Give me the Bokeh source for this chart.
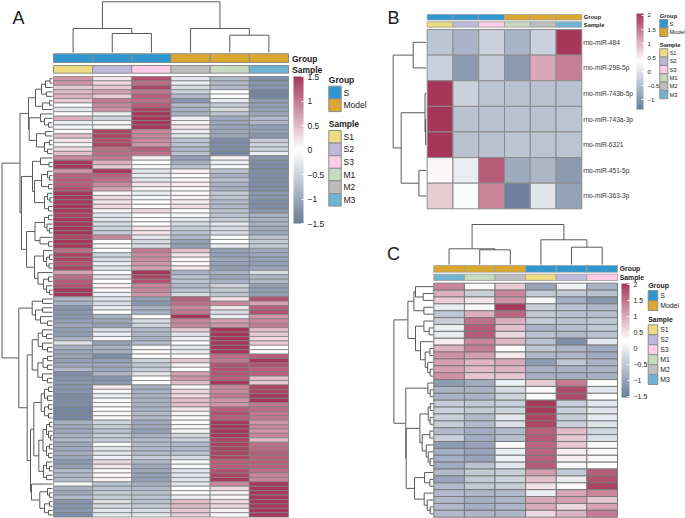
import numpy as np
from bokeh.plotting import figure
from bokeh.models import ColumnDataSource, ColorBar, LinearColorMapper, FixedTicker, Range1d
from bokeh.core.properties import value
from bokeh.embed import file_html
from bokeh.resources import INLINE

# ---------- data ----------
group_names = ["S", "Model"]
sample_names = ["S1", "S2", "S3", "M1", "M2", "M3"]

a_groups = ["S", "S", "S", "Model", "Model", "Model"]
a_samples = ["S1", "S2", "S3", "M2", "M1", "M3"]
a_values = [
    [.8,.2,1.3,-.3,-.8,-1.3],[.8,.3,1.1,-.2,-.8,-1.2],[.4,.4,1.4,-.4,-.8,-1.2],[.5,.7,1.0,-.5,0,-1.4],
    [.6,.4,1.2,-.8,0,-1.4],[.4,1.0,1.1,-1.2,-.2,-1.1],[-.05,.9,1.2,-.8,-.6,-1.1],[-.3,.8,1.4,-.9,-.4,-1.1],
    [0,-.2,1.5,-.9,-.7,-1.0],[.6,-.5,1.5,-.2,-1,-.8],[-.2,-.1,1.5,.1,-1,-.8],[-.1,-.1,1.5,.2,-1,-1.1],
    [.05,1.4,.9,-.2,-1,-1.1],[.5,1.4,.9,-.3,-1,-1.2],[.2,1.3,.9,-.7,-1.3,-.6],[.1,1.4,.8,-.7,-1.3,-.5],
    [.3,1.1,1.2,-.8,-1.3,-.5],[.5,1.1,1.1,-.7,-1.4,-.2],[.9,1.0,.1,-1.1,.1,-1.2],[1.5,.6,0,-.9,-.2,-1.3],
    [1.5,.4,-.05,-.7,-.1,-1.3],[.8,1.5,-.3,.1,-.7,-1.3],[1.2,1.2,-.2,0,-.9,-1.3],[1.2,1.1,-.3,.05,-.7,-1.3],
    [1.2,.9,.2,.15,-.9,-1.3],[1.3,.7,.1,.05,-.9,-1.3],[1.5,.1,-.2,.05,-.6,-1.2],[1.5,.3,-.1,.1,-.7,-1.2],
    [1.5,.2,0,.15,-.8,-1.3],[1.5,.3,.05,.25,-.8,-1.3],[1.5,.1,.3,0,-.7,-1.2],[1.4,-.3,0,-.1,-.7,-.9],
    [1.5,-.3,-.05,-.3,-.6,-.9],[1.5,-.4,0,-.4,-.3,-.9],[1.5,-.5,.2,-.6,-.4,-1],[1.5,-.6,.2,-.7,-.4,-1],
    [1.4,.9,-.3,-.8,-.1,-.7],[1.5,0,-.4,-1.1,0,-.6],[1.5,.05,-.4,-1.1,-.2,-.6],[1.1,-.05,1,.5,-1.1,-1],
    [1.4,-.5,.9,.2,-1.1,-1],[1.4,-.4,.9,.05,-1.0,-1.1],[1.3,-.2,.8,.05,-1.1,-1.1],[1.4,-.3,.7,.2,-1.1,-1.0],
    [.7,.05,1.5,-.9,-.9,-.4],[1.1,-.3,1.4,-.7,-1,-.8],[1.2,0,1.3,-.7,-.9,-.8],[1.3,.1,.9,-.8,-.5,-1.1],
    [1.5,.05,.9,-.7,-.6,-1.1],[1.5,-.2,.8,-.4,-.7,-1.1],
    [-.8,-.3,-1.1,1.2,.2,1.3],[-.9,-.4,-1.2,1.1,.9,.7],[-1.2,-.2,-.9,.9,.2,1.2],[-1.2,0,-.9,1.0,-.4,1.3],
    [-1.2,-.9,.05,1.5,-.2,.8],[-1.1,-1,-.4,.9,.7,.9],[-1,-1.1,-.5,.9,.8,1.0],[-1.1,-.4,-.8,.4,1.5,.5],
    [-1.1,-.2,-.8,-.3,1.5,.4],[-.9,-.1,-.9,-.2,1.5,.3],[-.3,-1.1,-.8,.05,1.5,.4],[-.9,-.9,.05,-.3,1.5,0],
    [-1,-.9,.05,-.2,1.5,0],[-1,-1.3,0,0,1.1,1.2],[-1.1,-1.1,-.5,.4,1.0,1.5],[-1,-1,-.6,.1,1.3,1.3],
    [-.8,-1,-.6,0,1.3,1.2],[-1.3,-.8,-.3,.7,1.3,1.2],[-1.2,-1.2,0,.8,1.2,.5],[-1.2,-1.2,0,.5,1.5,.4],
    [-1.2,.15,-.9,.05,.9,1.4],[-1.2,-.1,-.9,.3,.9,1.4],[-1.3,-.2,-.9,.3,1,1.5],[-1.3,-.05,-.9,.5,.8,1.5],
    [-1.3,.05,-.9,.5,.8,1.0],[-1.4,0,-.9,.2,1.2,1.1],[-1.4,.05,-.8,.1,1.3,1.0],[-1.4,.05,-.8,.05,1.2,1.0],
    [-.9,-.5,-1,.05,1.5,.8],[-1,-.6,-1,-.1,1.5,.9],[-1,-.7,-1.1,-.1,1.5,.8],[-.9,-.6,-.9,-.5,1.5,.9],
    [-.8,-.6,-.8,-.5,1.4,.5],[-1,-.1,-.8,-.8,1.4,1.1],[-1,-.3,-.8,-.8,1.4,1.1],[-.9,-.3,-.8,-.7,1.4,1.2],
    [-1,-.2,-.6,-.4,1.4,1.2],[-1.2,.3,-.8,-.1,1.2,1.2],[-1.1,.2,-1,-.05,1.2,1.2],[-.8,-.1,-1,-.3,1.3,1.1],
    [-.8,.05,-1.1,-.3,1.4,.9],[-.8,.1,-1.1,-.3,1.5,.9],[-.1,-.7,-.9,-.3,.9,1.5],[-.9,-.7,-.8,0,.3,1.5],
    [-1,-.6,-.7,-.05,.1,1.5],[-.8,-.6,-.7,-.2,.1,1.5],[-1.2,-.4,-.7,.5,.3,1.5],[-1.2,-.4,-.6,.5,.3,1.5],
    [-1.2,-.3,-.4,.4,.1,1.5],[-1.3,-.3,-.3,.4,.05,1.5],
]
a_col_tree = (50.7, (24, 0, (19, 0, 0)), (24, 0, (17.3, 0, 0)))
_r0_7 = (17, (11, (7, (2.5, 0, 0), 0), (6, 0, 0)), (10, (3, 0, 0), 0))
_r8_11 = (12, 0, (8, 0, (4, 0, 0)))
_r12_17 = (16, (7, 0, 0), (8, (3, 0, 0), (5, 0, 0)))
_u2a = (20, (12, 0, (3.5, 0, 0)), (18, (11, (5, 0, (3, 0, 0)), (4, 0, 0)), (8, (5, 0, (2.5, 0, 0)), (4, 0, 0))))
_u2b = (26, (17.5, (8, (4, 0, 0), (5.5, 0, (3, 0, 0))), (12.5, 0, (4, 0, 0))),
        (18, (9, 0, (6, (3, 0, 0), (3.5, 0, 0))), (14.5, 0, (9, (4, 0, 0), (6, 0, (3, 0, 0))))))
_upper = (32.5, (24, _r0_7, (23.3, _r8_11, _r12_17)), (31, _u2a, _u2b))
_la = (20.3, (10, 0, 0), (17, (10, 0, 0), (12, 0, (5, 0, 0))))
_lb1 = (20.3, (14.3, (10, 0, (6, 0, 0)), (10, 0, (5, 0, 0))),
        (14.6, (9.5, (5, 0, 0), (5, 0, 0)), (10, 0, (5, 0, 0))))
_r70_77 = (11.3, (8, (4, 0, 0), (5, 0, 0)), (8, (4, 0, 0), (4, 0, 0)))
_r78_86 = (9.5, (6, (3, 0, 0), (4, 0, (2, 0, 0))), (6, (3, 0, 0), (4, 0, 0)))
_r87_91 = (9, (6, 0, (3, 0, 0)), (6, 0, 0))
_lb2 = (22, (18.7, _r70_77, (13.7, _r78_86, _r87_91)),
        (21, 0, (12.7, (5, 0, (3, 0, 0)), (8, (3, 0, 0), (4, 0, 0)))))
a_row_tree = (50.5, _upper, (33.7, _la, (25.3, _lb1, _lb2)))

b_groups = ["S", "S", "S", "Model", "Model", "Model"]
b_samples = ["S1", "S2", "S3", "M1", "M2", "M3"]
b_rows = ["rno-miR-484", "rno-miR-298-5p", "rno-miR-743b-5p", "rno-miR-743a-3p",
          "rno-miR-6321", "rno-miR-451-5p", "rno-miR-363-3p"]
b_values = [
    [-.41,-.62,-.25,-.62,-.25,2.07],
    [-.25,-.95,-.3,-.95,1.1,1.45],
    [2.07,-.25,-.42,-.45,-.45,-.45],
    [2.07,-.45,-.45,-.45,-.45,-.42],
    [2.07,-.45,-.45,-.42,-.42,-.42],
    [.45,.1,1.75,-.75,-.6,-.95],
    [.8,.3,1.4,-1.3,0,-.85],
]
b_row_tree = (33, (13, 0, 0), (25, (1.2, 0, (.6, 0, 0)), (7.3, 0, 0)))

c_groups = ["Model", "Model", "Model", "S", "S", "S"]
c_samples = ["M3", "M1", "M2", "S1", "S2", "S3"]
c_values = [
    [1.3,.3,.7,-1.0,.05,-.8],[.95,-.4,1.3,-.5,-.5,-.6],[.7,.5,1.2,.1,-.85,-1.2],[-.05,.15,2.02,-.4,-.6,-.7],
    [-.55,.95,1.6,-.5,-.6,-.65],[-.45,1.5,.95,-.5,-.6,-.55],[0,1.7,.8,-.8,-.65,-.5],[-.05,1.7,.6,-.6,-.7,-.6],
    [.4,1.3,.9,-.6,-1.3,-.1],[.95,1.4,.3,-.55,-.75,-.9],[1.2,1.1,.45,-.7,-.75,-.9],[1.1,.9,1.0,-1.1,-.55,-.75],
    [1.1,.85,.9,-.8,-.8,-.75],[1.2,.75,.75,-.85,-.85,-.8],[-1.1,-.9,0,.7,1.4,.25],[-.8,-.8,-.25,.3,1.85,-.1],
    [-.8,-.8,-.35,.3,1.85,.2],[-.45,-.5,-.4,2.0,-.4,-.1],[-.4,-.5,-.35,2.0,-.4,-.1],[-.4,-.7,-.1,1.9,-.45,-.05],
    [-.45,-.7,-.2,1.9,-.4,-.15],[-.7,-.9,-.7,1.65,.85,-.35],[-.4,-.9,-.65,1.7,.75,-.2],[-1.1,-1,.2,1.6,.75,.3],
    [-.85,-1,0,1.6,.4,.3],[-.85,-1,0,1.65,.4,.3],[-.9,-.6,-.1,1.7,.1,.2],[-.7,-.5,-.4,1.1,-.5,1.7],
    [-1,-.5,-.35,.8,-.05,1.8],[-.7,-.5,-.45,.5,.3,1.9],[-.7,-.75,-.7,0,1.05,1.3],[-.7,-.85,-.75,1.0,1.1,.75],
    [-.7,-.85,-.75,1.0,.6,1.05],[-.7,-.75,-.75,.6,.9,1.4],
]
c_col_tree = (40, (15.7, 0, (14.7, 0, 0)), (24.7, 0, (17.3, 0, 0)))
c_row_tree = (39.3,
    (25.3, (19.3, (17.7, 0, (10, 0, 0)), (9.3, 0, 0)),
           (17.7, (9.3, 0, (4, 0, 0)), (12.7, 0, (8, (3.3, 0, 0), (5.5, 0, (3, 0, 0)))))),
    (27.4, (5.3, 0, (3, 0, 0)),
           (27, (13.3, (5, (3, 0, 0), (3, 0, 0)), (11, (3.3, 0, 0), (7, 0, (5, 0, (3, 0, 0))))),
                (18.7, (8.7, 0, (3.3, 0, 0)), (9, 0, (6, 0, (3, 0, 0)))))))

a_ticks = [-1.5, -1, -.5, 0, .5, 1, 1.5]
bc_ticks = [-1.5, -1, -.5, 0, .5, 1, 1.5, 2]
b_ticks = [-1, -.5, 0, .5, 1, 1.5, 2]

# ---------- styles ----------
FONT = "Liberation Sans"
TXT = "#1a1a1a"
group_colors = {"S": "#2E97CF", "Model": "#DBA72E"}
sample_colors = {"S1": "#EEDC82", "S2": "#BEB8DA", "S3": "#FFCCE5",
                 "M1": "#C7D9BE", "M2": "#BDBDBD", "M3": "#6FB4D3"}
LOW, MID, HIGH = (106, 125, 155), (255, 255, 255), (166, 55, 90)


def make_palette(n=128):
    out = []
    for a, b in ((LOW, MID), (MID, HIGH)):
        for t in np.linspace(0, 1, n):
            out.append("#%02x%02x%02x" % tuple(int(round(a[k] + (b[k] - a[k]) * t)) for k in range(3)))
    return out


PALETTE = make_palette()

p = figure(width=685, height=518, x_range=Range1d(0, 685), y_range=Range1d(518, 0),
           output_backend="svg", toolbar_location=None, min_border=0,
           x_axis_location=None, y_axis_location=None, outline_line_color=None,
           margin=0)
p.xgrid.visible = False
p.ygrid.visible = False


def tree_segments(tree):
    xs0, xs1, ys0, ys1 = [], [], [], []
    count = [0]

    def walk(n):
        if n == 0:
            count[0] += 1
            return count[0] - 0.5, 0.0
        h, a, b = n
        pa, ha = walk(a)
        pb, hb = walk(b)
        for (pp, hh) in ((pa, ha), (pb, hb)):
            xs0.append(pp); xs1.append(pp); ys0.append(hh); ys1.append(h)
        xs0.append(pa); xs1.append(pb); ys0.append(h); ys1.append(h)
        return (pa + pb) / 2, h

    walk(tree)
    return np.array(xs0), np.array(xs1), np.array(ys0), np.array(ys1), count[0]


def draw_row_tree(tree, right, y0, rh, color="#5a5a5a", width=1.0):
    a0, a1, h0, h1, n = tree_segments(tree)
    p.segment(right - h0, y0 + a0 * rh, right - h1, y0 + a1 * rh, line_color=color, line_width=width)
    return n


def draw_col_tree(tree, bottom, x0, cw, color="#5a5a5a", width=1.0):
    a0, a1, h0, h1, n = tree_segments(tree)
    p.segment(x0 + a0 * cw, bottom - h0, x0 + a1 * cw, bottom - h1, line_color=color, line_width=width)


def label(x, y, text, size, bold=False, align="left", color=TXT):
    p.text([x], [y], text=[text], text_font=value(FONT), text_font_size=f"{size}px",
           text_font_style="bold" if bold else "normal", text_align=align,
           text_baseline="middle", text_color=color)


def heatmap(values, box, low, high, border, bw):
    x0, x1, y0, y1 = box
    m = np.array(values, dtype=float)
    nr, nc = m.shape
    cw, rh = (x1 - x0) / nc, (y1 - y0) / nr
    rr, cc = np.meshgrid(np.arange(nr), np.arange(nc), indexing="ij")
    src = ColumnDataSource(dict(left=x0 + cc.ravel() * cw, right=x0 + (cc.ravel() + 1) * cw,
                                top=y0 + rr.ravel() * rh, bottom=y0 + (rr.ravel() + 1) * rh,
                                v=m.ravel()))
    mapper = LinearColorMapper(palette=PALETTE, low=low, high=high)
    p.quad(left="left", right="right", top="top", bottom="bottom", source=src,
           fill_color={"field": "v", "transform": mapper},
           line_color=border, line_width=bw)
    return mapper, nr, nc, cw, rh


def annotation(names, colors, x0, cw, y0, y1, border, bw):
    n = len(names)
    xs = x0 + np.arange(n) * cw
    p.quad(left=xs, right=xs + cw, top=y0, bottom=y1, fill_color=[colors[k] for k in names],
           line_color=border, line_width=bw)


def colorbar(mapper, ticks, x, top, w, h, size):
    overrides = {t: (f"{t:g}".replace("-", "\u2212")) for t in ticks}
    cb = ColorBar(color_mapper=mapper, ticker=FixedTicker(ticks=ticks), major_label_overrides=overrides,
                  location=(x, 518 - top - h), width=w, height=h, padding=0, margin=0,
                  background_fill_alpha=0, border_line_color=None, bar_line_color=None,
                  major_tick_line_color="white", major_tick_in=2, major_tick_out=0,
                  minor_tick_line_color=None, label_standoff=4,
                  major_label_text_font=FONT, major_label_text_font_size=f"{size}px",
                  major_label_text_color=TXT)
    p.add_layout(cb, "center")


def legend(x, bw, group_title_y, group_top, bh_g, sample_title_y, sample_top, bh_s, text_x, size):
    label(x, group_title_y, "Group", size, bold=True)
    label(x, sample_title_y, "Sample", size, bold=True)
    for i, g in enumerate(group_names):
        t = group_top + i * bh_g
        p.quad(left=[x], right=[x + bw], top=[t], bottom=[t + bh_g], fill_color=group_colors[g],
               line_color="#8c8c8c", line_width=1)
        label(text_x, t + bh_g / 2, g, size)
    for i, s in enumerate(sample_names):
        t = sample_top + i * bh_s
        p.quad(left=[x], right=[x + bw], top=[t], bottom=[t + bh_s], fill_color=sample_colors[s],
               line_color="#8c8c8c", line_width=1)
        label(text_x, t + bh_s / 2, s, size)


# ---------- panel A ----------
mA, nr, nc, cw, rh = heatmap(a_values, (53, 288, 76, 516.6), -1.5, 1.5, "#808080", 0.8)
assert draw_row_tree(a_row_tree, 52, 76, rh) == nr
draw_col_tree(a_col_tree, 52, 53, cw)
annotation(a_groups, group_colors, 53, cw, 53.3, 62, "#8c8c8c", 1)
annotation(a_samples, sample_colors, 53, cw, 65, 72.7, "#8c8c8c", 1)
label(291.5, 58, "Group", 8.5, bold=True)
label(291.5, 69, "Sample", 8.5, bold=True)
colorbar(mA, a_ticks, 293, 76, 10, 147, 8.5)
legend(328.3, 12.4, 79.5, 85.7, 12.7, 123.5, 130, 12.6, 343, 8.5)
label(12, 17, "A", 18)

# ---------- panel B ----------
mB, nr, nc, cw, rh = heatmap(b_values, (426.7, 581.3, 29, 208.3), -1.35, 2.07, "#8c8c8c", 1)
assert draw_row_tree(b_row_tree, 425.7, 29, rh) == nr
annotation(b_groups, group_colors, 426.7, cw, 14, 19.5, "#a0a0a0", 0.8)
annotation(b_samples, sample_colors, 426.7, cw, 21.3, 26.7, "#a0a0a0", 0.8)
label(583.3, 16.7, "Group", 5.8, bold=True)
label(583.3, 24, "Sample", 5.8, bold=True)
for i, name in enumerate(b_rows):
    label(582.7, 29 + (i + .5) * rh, name, 6.6, color="#333333")
colorbar(mB, b_ticks, 636, 13, 7, 96, 6)
legend(659.3, 8, 15.3, 19, 8.5, 44, 48.3, 8.33, 669, 5.8)
label(387, 17, "B", 18)

# ---------- panel C ----------
mC, nr, nc, cw, rh = heatmap(c_values, (433.3, 617, 282.7, 516.7), -1.54, 2.02, "#7a7a7a", 1)
assert draw_row_tree(c_row_tree, 432.7, 282.7, rh) == nr
draw_col_tree(c_col_tree, 264, 433.3, cw)
annotation(c_groups, group_colors, 433.3, cw, 265, 271.7, "#a0a0a0", 0.8)
annotation(c_samples, sample_colors, 433.3, cw, 273.7, 280, "#a0a0a0", 0.8)
label(619.3, 268.3, "Group", 6.8, bold=True)
label(619.3, 276.7, "Sample", 6.8, bold=True)
colorbar(mC, bc_ticks, 621, 283, 8, 114, 7)
legend(647.7, 9.6, 285, 290, 10, 319.3, 324.3, 9.95, 659.7, 6.9)
label(386.5, 253.3, "C", 18)

html = file_html(p, INLINE)
open("out.html", "w").write(html)
